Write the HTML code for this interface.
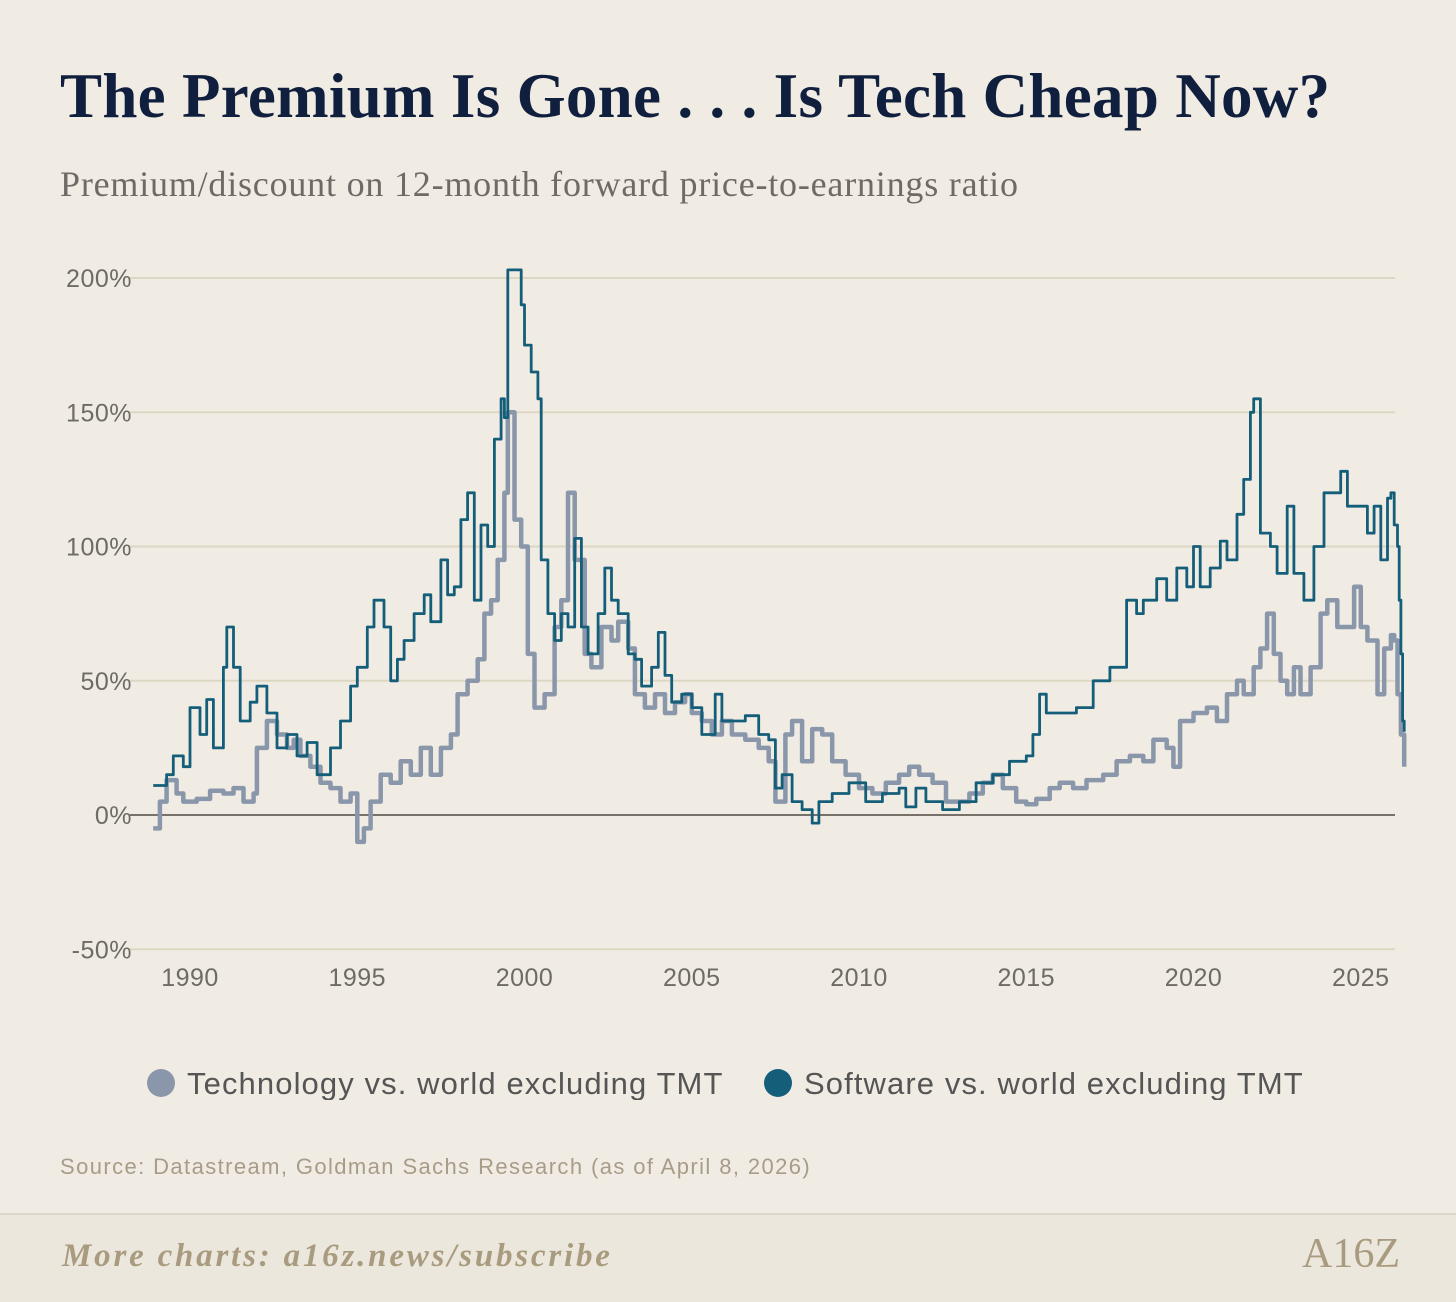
<!DOCTYPE html>
<html><head><meta charset="utf-8">
<style>
html,body{margin:0;padding:0;background:#f0ece4;}
body{width:1456px;height:1300px;position:relative;overflow:hidden;font-family:"Liberation Sans",sans-serif;}
.title{position:absolute;left:60px;top:60px;font-family:"Liberation Serif",serif;font-size:63px;font-weight:bold;color:#0f1f3d;letter-spacing:0.3px;}
.sub{position:absolute;left:60px;top:163px;font-family:"Liberation Serif",serif;font-size:36px;color:#6f6a66;letter-spacing:0.8px;}
.src{position:absolute;left:60px;top:1154px;font-size:22px;color:#a89c88;letter-spacing:1.4px;}
.footer{position:absolute;left:0;top:1213px;width:1456px;height:87px;background:#ece7dc;border-top:2px solid #ddd5c5;}
.more{position:absolute;left:62px;top:1238px;font-family:"Liberation Serif",serif;font-style:italic;font-weight:bold;font-size:33px;color:#a99b7f;letter-spacing:2.8px;}
.logo{position:absolute;left:1302px;top:1230px;font-family:"Liberation Serif",serif;font-size:42px;color:#a99b7f;}
</style></head><body>
<div class="title">The Premium Is Gone . . . Is Tech Cheap Now?</div>
<div class="sub">Premium/discount on 12-month forward price-to-earnings ratio</div>
<svg id="chart" width="1456" height="1100" style="position:absolute;left:0;top:0"></svg>
<div class="src">Source: Datastream, Goldman Sachs Research (as of April 8, 2026)</div>
<div class="footer"></div>
<div class="more">More charts: a16z.news/subscribe</div>
<div class="logo">A16Z</div>
<script>
const yTicks=[200,150,100,50,0,-50];
const xTicks=[1990,1995,2000,2005,2010,2015,2020,2025];
const seriesNames=["Technology vs. world excluding TMT","Software vs. world excluding TMT"];
const techYears=[1988.9,1989.1,1989.3,1989.6,1989.8,1990.2,1990.6,1991.0,1991.3,1991.6,1991.9,1992.0,1992.3,1992.6,1992.9,1993.1,1993.3,1993.6,1993.9,1994.2,1994.5,1994.8,1995.0,1995.2,1995.4,1995.7,1996.0,1996.3,1996.6,1996.9,1997.2,1997.5,1997.8,1998.0,1998.3,1998.6,1998.8,1999.0,1999.2,1999.4,1999.5,1999.7,1999.9,2000.1,2000.3,2000.6,2000.9,2001.1,2001.3,2001.5,2001.8,2002.0,2002.3,2002.6,2002.8,2003.1,2003.3,2003.6,2003.9,2004.2,2004.5,2004.8,2005.0,2005.3,2005.6,2005.9,2006.2,2006.6,2007.0,2007.3,2007.5,2007.8,2008.0,2008.3,2008.6,2008.9,2009.2,2009.6,2010.0,2010.4,2010.8,2011.2,2011.5,2011.8,2012.2,2012.6,2013.0,2013.3,2013.7,2014.0,2014.3,2014.7,2015.0,2015.3,2015.7,2016.0,2016.4,2016.8,2017.3,2017.7,2018.1,2018.5,2018.8,2019.2,2019.4,2019.6,2020.0,2020.4,2020.7,2021.0,2021.3,2021.5,2021.8,2022.0,2022.2,2022.4,2022.6,2022.8,2023.0,2023.2,2023.5,2023.8,2024.0,2024.3,2024.6,2024.8,2025.0,2025.2,2025.5,2025.7,2025.9,2026.0,2026.1,2026.2,2026.3];
const techValues=[-5,5,13,8,5,6,9,8,10,5,8,25,35,30,25,28,22,18,12,10,5,8,-10,-5,5,15,12,20,15,25,15,25,30,45,50,58,75,80,95,120,150,110,100,60,40,45,70,80,120,95,60,55,70,65,72,62,45,40,45,38,42,45,38,35,30,35,30,28,25,20,5,30,35,20,32,30,20,15,10,8,12,15,18,15,12,5,5,8,12,15,10,5,4,6,10,12,10,13,15,20,22,20,28,25,18,35,38,40,35,45,50,45,55,62,75,60,50,45,55,45,55,75,80,70,70,85,70,65,45,62,67,65,45,30,18];
const softYears=[1988.9,1989.3,1989.5,1989.8,1990.0,1990.3,1990.5,1990.7,1991.0,1991.1,1991.3,1991.5,1991.8,1992.0,1992.3,1992.6,1992.9,1993.2,1993.5,1993.8,1994.2,1994.5,1994.8,1995.0,1995.3,1995.5,1995.8,1996.0,1996.2,1996.4,1996.7,1997.0,1997.2,1997.5,1997.7,1997.9,1998.1,1998.3,1998.5,1998.7,1998.9,1999.1,1999.3,1999.4,1999.5,1999.9,2000.0,2000.2,2000.4,2000.5,2000.7,2000.9,2001.1,2001.3,2001.5,2001.7,2001.9,2002.2,2002.4,2002.6,2002.8,2003.1,2003.3,2003.5,2003.8,2004.0,2004.2,2004.4,2004.7,2005.0,2005.3,2005.7,2005.9,2006.2,2006.6,2007.0,2007.3,2007.5,2007.7,2008.0,2008.3,2008.6,2008.8,2009.2,2009.7,2010.2,2010.7,2011.2,2011.4,2011.7,2012.0,2012.5,2013.0,2013.5,2014.0,2014.5,2015.0,2015.2,2015.4,2015.6,2016.0,2016.5,2017.0,2017.5,2018.0,2018.3,2018.5,2018.9,2019.2,2019.5,2019.8,2020.0,2020.2,2020.5,2020.8,2021.0,2021.3,2021.5,2021.7,2021.8,2022.0,2022.3,2022.5,2022.8,2023.0,2023.3,2023.6,2023.9,2024.1,2024.4,2024.6,2024.9,2025.2,2025.4,2025.6,2025.8,2025.9,2026.0,2026.1,2026.15,2026.2,2026.25,2026.3];
const softValues=[11,15,22,18,40,30,43,25,55,70,55,35,42,48,38,25,30,22,27,15,25,35,48,55,70,80,70,50,58,65,75,82,72,95,82,85,110,120,80,108,100,140,155,148,203,190,175,165,155,95,75,65,75,70,103,70,60,75,92,80,75,60,58,48,55,68,52,42,45,40,30,45,35,35,37,30,28,10,15,5,2,-3,5,8,12,5,8,10,3,10,5,2,5,12,15,20,22,30,45,38,38,40,50,55,80,75,80,88,80,92,85,100,85,92,102,95,112,125,150,155,105,100,90,115,90,80,100,120,120,128,115,115,105,115,95,118,120,108,100,80,60,35,31];

const NS="http://www.w3.org/2000/svg";
const svg=document.getElementById('chart');
const X0=130,X1=1395;
function xs(yr){return 190+(yr-1990)*33.45;}
function ys(v){return 815-v*2.685;}
function mk(tag,attrs){const e=document.createElementNS(NS,tag);for(const k in attrs)e.setAttribute(k,attrs[k]);svg.appendChild(e);return e;}
yTicks.forEach(t=>{
  const l=mk('line',{x1:X0,x2:X1,y1:ys(t),y2:ys(t),stroke:t===0?'#77716a':'#ddd6c2','stroke-width':2});
  
  
  const tx=mk('text',{x:132,y:ys(t)+9,'text-anchor':'end','font-size':25,fill:'#6e6a66','font-family':'Liberation Sans, sans-serif','letter-spacing':0.5});
  tx.textContent=t+'%';
  
  
});
xTicks.forEach(t=>{
  const tx=mk('text',{x:xs(t),y:986,'text-anchor':'middle','font-size':25,fill:'#6e6a66','font-family':'Liberation Sans, sans-serif','letter-spacing':0.5});
  tx.textContent=t;
  
  
});
function stepPath(yrs,vals){let d='M'+xs(yrs[0]).toFixed(1)+' '+ys(vals[0]).toFixed(1);
  for(let i=1;i<yrs.length;i++){d+=' H'+xs(yrs[i]).toFixed(1)+' V'+ys(vals[i]).toFixed(1);}return d;}
const p1=mk('path',{d:stepPath(techYears,techValues),fill:'none',stroke:'#8a97aa','stroke-width':4.5,'stroke-linejoin':'round'});


const p2=mk('path',{d:stepPath(softYears,softValues),fill:'none',stroke:'#145e7a','stroke-width':2.8,'stroke-linejoin':'round'});


const legendColors=['#8a97aa','#145e7a'];const lx=[161,778];
seriesNames.forEach((n,i)=>{
  const c=mk('circle',{cx:lx[i],cy:1083,r:14,fill:legendColors[i]});
  
  
  const t=mk('text',{x:lx[i]+26,y:1094,'font-size':31,fill:'#555','font-family':'Liberation Sans, sans-serif','letter-spacing':1.1});
  t.textContent=n;
  
  
});
</script>
</body></html>
